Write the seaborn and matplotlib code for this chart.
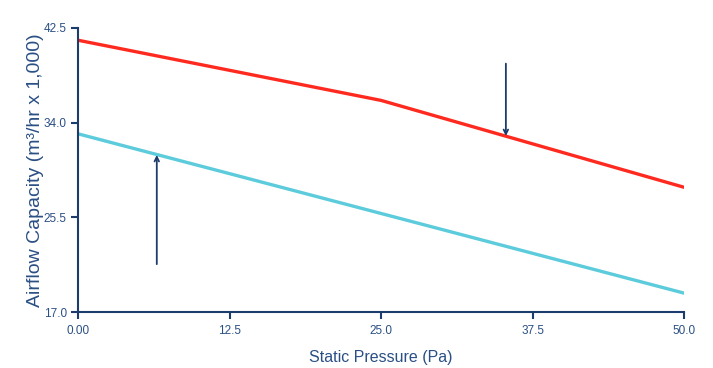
import matplotlib
matplotlib.use('Agg')
import pandas as pd
import numpy as np
import matplotlib.pyplot as plt
import seaborn as sns

# data
pressure = [0.0, 25.0, 50.0]
upper_curve = [41.4, 36.0, 28.2]
lower_curve = [33.0, 25.85, 18.7]
x_ticks = [0.0, 12.5, 25.0, 37.5, 50.0]
x_tick_labels = ['0.00', '12.5', '25.0', '37.5', '50.0']
y_ticks = [17.0, 25.5, 34.0, 42.5]
y_tick_labels = ['17.0', '25.5', '34.0', '42.5']
# arrows: (x, y_start, y_end)
arrow_up = (6.5, 21.3, 31.1)
arrow_down = (35.3, 39.3, 32.8)

navy = '#1d3c6e'
text_col = '#2a4f84'
red = '#ff2a1f'
cyan = '#5ccbdc'

df = pd.DataFrame({'pressure': pressure * 2,
                   'airflow': upper_curve + lower_curve,
                   'curve': ['upper'] * 3 + ['lower'] * 3})

sns.set_style('white')
plt.rcParams['font.family'] = ['Liberation Sans', 'DejaVu Sans']

fig = plt.figure(figsize=(7.13, 3.68), dpi=100)
ax = fig.add_axes([0.1094, 0.152, 0.85, 0.772])

sns.lineplot(data=df, x='pressure', y='airflow', hue='curve',
             palette={'upper': red, 'lower': cyan}, linewidth=2.4,
             legend=False, ax=ax)

for x, y0, y1 in [arrow_up, arrow_down]:
    ax.annotate('', xy=(x, y1), xytext=(x, y0),
                arrowprops=dict(arrowstyle='->', color=navy, lw=1.3,
                                shrinkA=0, shrinkB=0, mutation_scale=8))

ax.set_xlim(0, 50)
ax.set_ylim(17.0, 42.5)
ax.set_xticks(x_ticks)
ax.set_xticklabels(x_tick_labels)
ax.set_yticks(y_ticks)
ax.set_yticklabels(y_tick_labels)

for s in ['top', 'right']:
    ax.spines[s].set_visible(False)
for s in ['left', 'bottom']:
    ax.spines[s].set_color(navy)
    ax.spines[s].set_linewidth(1.5)

ax.tick_params(axis='both', bottom=True, left=True, direction='out', length=5,
               width=1.5, color=navy, labelcolor=text_col, labelsize=8.5, pad=3)
ax.tick_params(axis='x', pad=4)

ax.set_xlabel('Static Pressure (Pa)', fontsize=11.5, color=text_col, labelpad=10)
ax.set_ylabel('Airflow Capacity (m³/hr x 1,000)', fontsize=14, color=text_col, labelpad=0)

fig.savefig('out.png', dpi=100)
